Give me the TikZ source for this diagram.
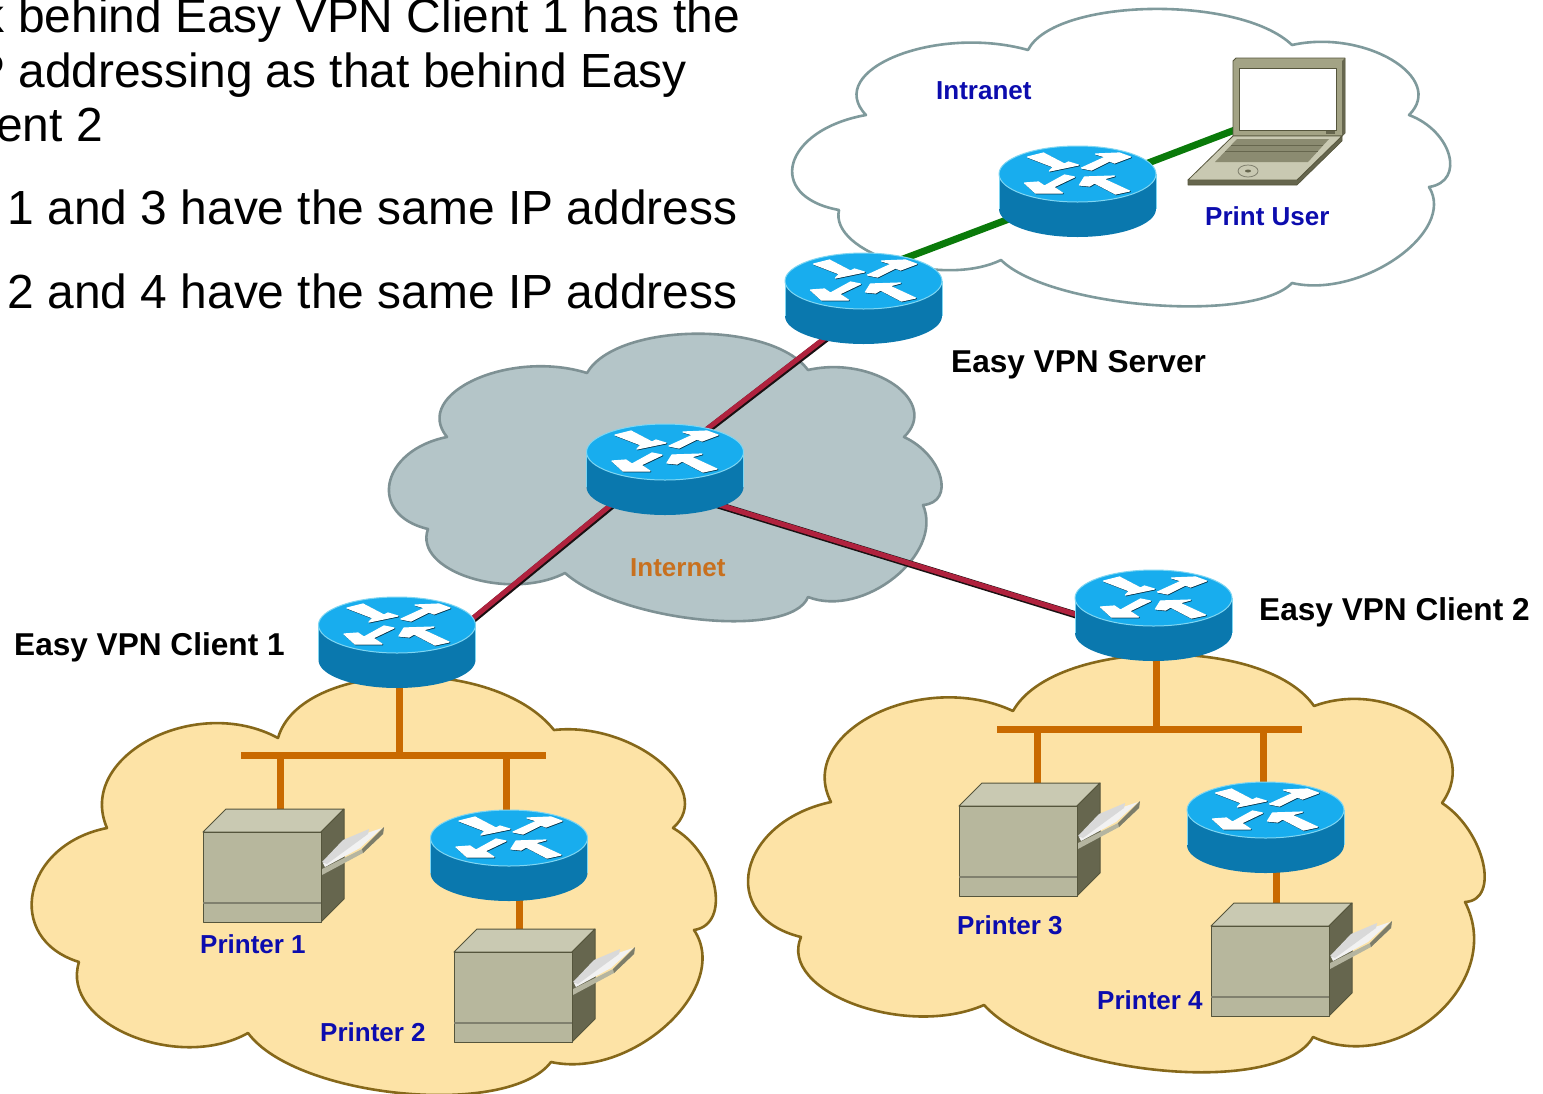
\documentclass[tikz,border=0pt]{standalone}
\usepackage{fontspec}
\setmainfont{Liberation Sans}
\usetikzlibrary{calc}
\definecolor{rtop}{HTML}{18ADEE}
\definecolor{rside}{HTML}{0A78AE}
\definecolor{redge}{HTML}{7FD6F2}
\definecolor{yfill}{HTML}{FDE3A6}
\definecolor{ystroke}{HTML}{86681A}
\definecolor{gfill}{HTML}{B4C5C8}
\definecolor{gstroke}{HTML}{7E9194}
\definecolor{istroke}{HTML}{7F9A9C}
\definecolor{orangeline}{HTML}{C96A00}
\definecolor{greenline}{HTML}{0A7A0A}
\definecolor{redline}{HTML}{B0223E}
\definecolor{darkline}{HTML}{1A1012}
\definecolor{ptop}{HTML}{C9C9B2}
\definecolor{pfront}{HTML}{B7B79D}
\definecolor{pside}{HTML}{66664E}
\definecolor{pedge}{HTML}{55553C}
\definecolor{lid}{HTML}{A3A385}
\definecolor{blab}{HTML}{0C0CAE}
\definecolor{olab}{HTML}{C8701E}
\tikzset{
  cloudline/.style={line width=2.6pt,line join=round},
  routerbox/.style={inner sep=0pt,minimum width=157pt,minimum height=91pt},
  printerbox/.style={inner sep=0pt,minimum width=141pt,minimum height=113pt},
  busbar/.style={inner sep=0pt,fill=orangeline,minimum width=305pt,minimum height=7pt},
  lapbox/.style={inner sep=0pt,minimum width=157pt,minimum height=127pt},
  orangelink/.style={line width=7pt,orangeline},
  greenlink/.style={line width=7pt,greenline},
  bluelabel/.style={inner sep=0pt,anchor=base west,text=blab,font=\fontsize{26}{26}\selectfont\bfseries},
  blacklabel/.style={inner sep=0pt,anchor=base west,text=black,font=\fontsize{31.6}{31.6}\selectfont\bfseries},
  bodytext/.style={inner sep=0pt,anchor=base east,text=black,font=\fontsize{47.9}{48}\selectfont},
}
% one scallop of a cloud: from the current cusp #1 through apex #2 to cusp #3
\newcommand{\bump}[3]{.. controls ($(#1)+1.333*(#2)-.817*(#1)-.517*(#3)$) and ($(#3)+1.333*(#2)-.517*(#1)-.817*(#3)$) .. (#3)}
\newcommand{\routerarrows}[1]{%
  \filldraw[#1,line width=1.2pt,line join=round] (-50,-17)--(-34,-21)--(-13,-10)--(-9,-12)--(1,-9)--(-28,-3)--(-24,-7)--cycle;
  \filldraw[#1,line width=1.2pt,line join=round] (4,-6)--(14,-4)--(32,-13)--(37,-11)--(53,-17)--(42,-21)--(18,-20)--(28,-17)--cycle;
  \filldraw[#1,line width=1.2pt,line join=round] (-3,3)--(-13,1)--(-33,12)--(-39,8)--(-53,9)--(-42,19)--(-15,19)--(-24,13)--cycle;
  \filldraw[#1,line width=1.2pt,line join=round] (52,17)--(38,20)--(17,9)--(12,12)--(2,11)--(7,3)--(37,2)--(26,5)--cycle;}
\newcommand{\routerart}[1]{%
  \begin{scope}[shift={(#1.center)}]
    \fill[rside] (0,17.5) ellipse [x radius=78.5pt,y radius=28pt];
    \fill[rside] (-78.5,-17.5) rectangle (78.5,17.5);
    \draw[redge,line width=1pt] (-78.5,-17.5) -- (-78.5,17.5);
    \draw[redge,line width=1pt] (78.5,-17.5) -- (78.5,17.5);
    \fill[rtop] (0,-17.5) ellipse [x radius=78.5pt,y radius=28pt];
    \draw[redge,line width=1pt] (0,-17.5) ellipse [x radius=78.5pt,y radius=28pt];
    \begin{scope}[shift={(.7,-16.8)}]\routerarrows{rside!45!black}\end{scope}
    \begin{scope}[shift={(0,-17.5)}]\routerarrows{white}\end{scope}
  \end{scope}}
\newcommand{\printerart}[1]{%
  \begin{scope}[shift={(#1.center)}]
    \begin{scope}[shift={(-70.5,-33.5)},draw=pedge,line width=1pt,line join=round]
      \filldraw[fill=ptop] (0,0)--(23,-23)--(141,-23)--(118,0)--cycle;
      \filldraw[fill=pside] (118,0)--(141,-23)--(141,67)--(118,90)--cycle;
      \filldraw[fill=pfront] (0,0) rectangle (118,90);
      \draw[line width=1.2pt,pfront!70!black] (0,71)--(118,71);
      \fill[ptop!90!black] (119,37)--(159,17)--(181,-5)--(180,2)--(160,21)--(119,43)--cycle;
      \fill[pside!85!white] (159,17)--(181,-5)--(180,2)--(160,21)--cycle;
      \fill[white!90!gray] (120,31)--(144,11)--(164,1)--(179,-4)--(157,16)--(122,35)--cycle;
      \fill[white!70!gray] (119,30)--(140,8)--(166,-3)--(165,2)--(124,32)--cycle;
    \end{scope}
  \end{scope}}
\newcommand{\duallink}[4]{%
  \draw[line width=7pt,darkline] ([shift={#2}]#1.center) -- ([shift={#4}]#3.center);
  \draw[line width=5pt,redline,transform canvas={shift={(-.8pt,.8pt)}}] ([shift={#2}]#1.center) -- ([shift={#4}]#3.center);}
\begin{document}
\begin{tikzpicture}[x=1pt,y=-1pt]
\useasboundingbox (0,0) rectangle (1543,1093);
\clip (0,0) rectangle (1543,1093);
\fill[white] (0,0) rectangle (1543,1093);
% Intranet cloud
\filldraw[cloudline,fill=white,draw=istroke] (866,115)
 \bump{866,115}{897,56}{1028,50}
 \bump{1028,50}{1151,9}{1292,45}
 \bump{1292,45}{1393,60}{1409,115}
 \bump{1409,115}{1450,155}{1429,187}
 \bump{1429,187}{1398,258}{1292,283}
 \bump{1292,283}{1151,305}{1001,260}
 \bump{1001,260}{895,262}{839,210}
 \bump{839,210}{794,163}{866,115} -- cycle;
% Internet cloud
\filldraw[cloudline,fill=gfill,draw=gstroke] (587,373)
 \bump{587,373}{695,334}{808,370}
 \bump{808,370}{895,385}{904,437}
 \bump{904,437}{941,477}{923,505}
 \bump{923,505}{895,578}{808,597}
 \bump{808,597}{702,620}{565,573}
 \bump{565,573}{470,578}{428,529}
 \bump{428,529}{390,483}{447,437}
 \bump{447,437}{475,380}{587,373} -- cycle;
% Left site cloud
\filldraw[cloudline,fill=yfill,draw=ystroke] (278,738)
 \bump{278,738}{402,677}{554,730}
 \bump{554,730}{660,762}{673,828}
 \bump{673,828}{715,887}{694,930}
 \bump{694,930}{668,1025}{551,1062}
 \bump{551,1062}{402,1094}{248,1033}
 \bump{248,1033}{130,1036}{79,962}
 \bump{79,962}{33,893}{107,828}
 \bump{107,828}{150,740}{278,738} -- cycle;
% Right site cloud
\filldraw[cloudline,fill=yfill,draw=ystroke] (1013,711)
 \bump{1013,711}{1161,655}{1314,706}
 \bump{1314,706}{1425,722}{1442,803}
 \bump{1442,803}{1484,863}{1465,902}
 \bump{1465,902}{1438,1015}{1313,1037}
 \bump{1313,1037}{1161,1071}{984,1005}
 \bump{984,1005}{855,1005}{801,937}
 \bump{801,937}{750,870}{831,802}
 \bump{831,802}{875,715}{1013,711} -- cycle;
% named device places
\node[routerbox] (srv) at (863.5,298.5) {};
\node[routerbox] (inr) at (1077.5,191.5) {};
\node[routerbox] (int) at (665,469.5) {};
\node[routerbox] (cla) at (397,642.5) {};
\node[routerbox] (clb) at (1153.5,615.5) {};
\node[routerbox] (rpa) at (509,855.5) {};
\node[routerbox] (rpb) at (1265.5,827.5) {};
\node[printerbox] (pa) at (273.5,865.5) {};
\node[printerbox] (pb) at (524.5,985.5) {};
\node[printerbox] (pc) at (1029.5,839.5) {};
\node[printerbox] (pd) at (1281.5,959.5) {};
\node[lapbox] (lap) at (1266,121) {};
\node[busbar] (busa) at (393.5,755) {};
\node[busbar] (busb) at (1149.5,729) {};
% connectors
\draw[greenlink] ([shift={(17,-31)}]srv.center) -- ([shift={(-38,16)}]inr.center);
\draw[greenlink] ([shift={(22,-10)}]inr.center) -- ([shift={(-26,7)}]lap.center);
\duallink{srv}{(-23,29)}{int}{(25,-26)}
\duallink{int}{(-25,13)}{cla}{(53,-4)}
\duallink{int}{(35,30)}{clb}{(-53,7)}
\draw[orangelink] ([shift={(2.5,0)}]cla.center) -- ([shift={(6,0)}]busa.center);
\draw[orangelink] ([shift={(-113.5,0)}]busa.center) -- ([shift={(6.5,0)}]pa.center);
\draw[orangelink] ([shift={(112.5,0)}]busa.center) -- ([shift={(-3,0)}]rpa.center);
\draw[orangelink] ([shift={(10,0)}]rpa.center) -- ([shift={(-5.5,0)}]pb.center);
\draw[orangelink] ([shift={(3,0)}]clb.center) -- ([shift={(7,0)}]busb.center);
\draw[orangelink] ([shift={(-112.5,0)}]busb.center) -- ([shift={(7.5,0)}]pc.center);
\draw[orangelink] ([shift={(113.5,0)}]busb.center) -- ([shift={(-2.5,0)}]rpb.center);
\draw[orangelink] ([shift={(10.5,0)}]rpb.center) -- ([shift={(-5.5,0)}]pd.center);
% device art
\routerart{srv}\routerart{inr}\routerart{int}\routerart{cla}\routerart{clb}\routerart{rpa}\routerart{rpb}
\printerart{pa}\printerart{pb}\printerart{pc}\printerart{pd}
% laptop
\begin{scope}[shift={(lap.center)}]
 \begin{scope}[shift={(-1266,-121)},line join=round]
  \filldraw[fill=lid,draw=pedge,line width=.8pt] (1233,61)--(1236,58)--(1345,58)--(1345,133)--(1342,136)--(1233,136)--cycle;
  \fill[pside] (1342,61)--(1345,58)--(1345,133)--(1342,136)--cycle;
  \fill[white] (1239,68) rectangle (1336,130);
  \draw[pedge,line width=.8pt] (1239,68) rectangle (1336,130);
  \fill[pside] (1326,131) rectangle (1335,133.5);
  \filldraw[fill=pside,draw=pedge,line width=.6pt] (1188,180)--(1188,185)--(1297,185)--(1342,141)--(1342,136)--(1297,180)--cycle;
  \filldraw[fill=ptop,draw=pedge,line width=.8pt] (1233,136)--(1342,136)--(1297,180)--(1188,180)--cycle;
  \filldraw[fill=lid!85!black,draw=none] (1237,139)--(1329,139)--(1308,162)--(1215,162)--cycle;
  \draw[pside,line width=1pt] (1231,145)--(1323,145);
  \draw[pside,line width=1pt] (1225,151)--(1318,151);
  \draw[pfront!70!black,line width=.8pt] (1248,171) ellipse [x radius=10pt,y radius=6pt];
  \fill[pside] (1248,171) ellipse [x radius=3pt,y radius=1.5pt];
 \end{scope}
\end{scope}
% labels
\node[bodytext] (t1) at (740,32) {k behind Easy VPN Client 1 has the};
\node[bodytext] (t2) at (687,87) {P addressing as that behind Easy};
\node[bodytext] (t3) at (103,141) {ent 2};
\node[bodytext] (t4) at (737.5,224) {1 and 3 have the same IP address};
\node[bodytext] (t5) at (737.5,308) {2 and 4 have the same IP address};
\node[bluelabel] (l1) at (936,99) {Intranet};
\node[bluelabel] (l2) at (1205,225) {Print User};
\node[bluelabel] (l3) at (200,953) {Printer 1};
\node[bluelabel] (l4) at (320,1041) {Printer 2};
\node[bluelabel] (l5) at (957,934) {Printer 3};
\node[bluelabel] (l6) at (1097,1009) {Printer 4};
\node[bluelabel,text=olab] (l7) at (630,576) {Internet};
\node[blacklabel] (b1) at (951,372) {Easy VPN Server};
\node[blacklabel] (b2) at (14,655) {Easy VPN Client 1};
\node[blacklabel] (b3) at (1259,620) {Easy VPN Client 2};
\end{tikzpicture}
\end{document}
